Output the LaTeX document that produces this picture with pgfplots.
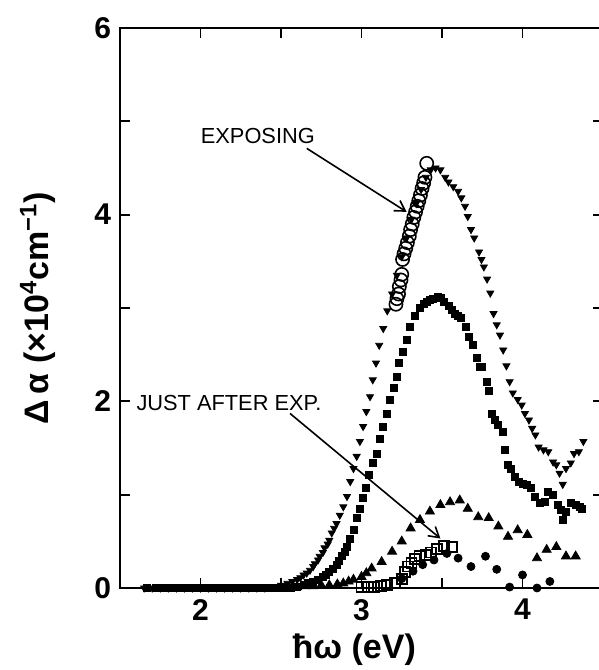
\documentclass[border=0pt]{standalone}
\usepackage{fontspec}
\setmainfont{Liberation Sans}
\usepackage{pgfplots}
\pgfplotsset{compat=1.18}
\usetikzlibrary{arrows.meta}
\begin{document}
\begin{tikzpicture}
\begin{axis}[
  scale only axis,
  width=241.5pt, height=280pt,
  xmin=1.5, xmax=4.5, ymin=0, ymax=6,
  axis line style={line width=1pt},
  every tick/.style={line width=0.9pt, black},
  tick align=inside,
  major tick length=5pt,
  xtick={2,2.5,3,3.5,4}, xticklabels={2,,3,,4},
  ytick={0,1,2,3,4,5,6}, yticklabels={0,,2,,4,,6},
  /pgf/number format/assume math mode=true,
  ticklabel style={font=\fontsize{15}{15}\selectfont\bfseries},
  xticklabel style={yshift=-2pt},
  yticklabel style={xshift=-1pt},
  xlabel={ħω (eV)},
  ylabel={Δ\,α (×10\textsuperscript{4}cm\textsuperscript{−1})},
  label style={font=\fontsize{17}{19}\selectfont\bfseries},
  xlabel style={at={(axis description cs:0.485,0)}, anchor=center, yshift=-31pt},
  ylabel style={at={(axis description cs:-0.17,0.5)}, anchor=center},
  clip=false,
]
% down triangles
\addplot[only marks, mark=triangle*, mark size=2pt, mark options={rotate=180, fill=black}, black] coordinates {
(1.65,0)(1.70,0)(1.75,0)(1.80,0)(1.85,0)(1.90,0)(1.95,0)(2.00,0)(2.05,0)(2.10,0)(2.15,0)(2.20,0)(2.25,0)(2.30,0)(2.35,0)(2.40,0)(2.45,0.01)(2.50,0.03)
(2.54,0.05)(2.57,0.07)(2.60,0.09)(2.62,0.11)(2.64,0.14)(2.66,0.16)(2.68,0.19)(2.70,0.23)(2.71,0.26)(2.73,0.30)(2.74,0.34)(2.76,0.38)(2.77,0.43)(2.79,0.47)(2.80,0.51)(2.815,0.59)(2.83,0.64)(2.845,0.69)(2.865,0.78)(2.887,0.87)(2.91,0.98)(2.93,1.14)(2.95,1.28)(2.97,1.41)(2.99,1.57)(3.01,1.73)(3.03,1.89)(3.053,2.05)(3.07,2.23)(3.09,2.41)(3.11,2.60)(3.135,2.78)(3.16,2.97)(3.19,3.15)(3.22,3.35)(3.25,3.55)(3.28,3.75)(3.31,3.95)(3.34,4.12)(3.37,4.27)(3.40,4.40)(3.43,4.48)(3.46,4.50)(3.49,4.48)(3.52,4.40)(3.54,4.35)(3.57,4.30)(3.60,4.25)(3.62,4.18)(3.643,4.09)(3.66,3.98)(3.68,3.84)(3.70,3.75)(3.73,3.60)(3.745,3.52)(3.76,3.44)(3.78,3.31)(3.80,3.16)(3.82,2.94)(3.84,2.82)(3.86,2.71)(3.88,2.55)(3.90,2.38)(3.92,2.21)(3.94,2.09)(3.97,2.02)(3.995,1.96)(4.015,1.87)(4.04,1.80)(4.06,1.71)(4.08,1.64)(4.10,1.51)(4.13,1.48)(4.16,1.46)(4.19,1.35)(4.21,1.32)(4.23,1.23)(4.25,1.11)(4.27,1.28)(4.30,1.34)(4.32,1.44)(4.35,1.46)(4.378,1.57)
};
% filled squares
\addplot[only marks, mark=square*, mark size=1.75pt, black] coordinates {
(1.67,0)(1.72,0)(1.77,0)(1.82,0)(1.87,0)(1.92,0)(1.97,0)(2.02,0)(2.07,0)(2.12,0)(2.17,0)(2.22,0)(2.27,0)(2.32,0)(2.37,0)(2.42,0)(2.47,0)(2.52,0)(2.56,0)
(2.60,0.01)(2.64,0.03)(2.67,0.05)(2.70,0.07)(2.73,0.09)(2.763,0.12)(2.78,0.14)(2.80,0.17)(2.82,0.20)(2.846,0.25)(2.86,0.29)(2.877,0.34)(2.895,0.39)(2.91,0.44)(2.93,0.53)(2.95,0.62)(2.97,0.75)(2.99,0.85)(3.01,0.96)(3.03,1.07)(3.047,1.21)(3.073,1.34)(3.094,1.44)(3.115,1.60)(3.135,1.73)(3.16,1.87)(3.177,2.01)(3.20,2.14)(3.22,2.26)(3.235,2.41)(3.255,2.53)(3.28,2.66)(3.30,2.80)(3.33,2.91)(3.363,3.00)(3.385,3.04)(3.405,3.07)(3.425,3.09)(3.446,3.10)(3.477,3.12)(3.49,3.11)(3.51,3.07)(3.54,3.02)(3.56,2.98)(3.58,2.94)(3.60,2.92)(3.62,2.89)(3.65,2.80)(3.67,2.69)(3.69,2.60)(3.715,2.46)(3.736,2.37)(3.75,2.37)(3.78,2.21)(3.79,2.11)(3.81,1.87)(3.83,1.80)(3.85,1.75)(3.88,1.67)(3.89,1.48)(3.91,1.32)(3.93,1.28)(3.95,1.19)(3.98,1.14)(4.00,1.12)(4.03,1.10)(4.05,1.07)(4.08,0.98)(4.11,0.91)(4.14,0.92)(4.16,1.03)(4.19,1.00)(4.22,0.89)(4.24,0.84)(4.25,0.73)(4.27,0.82)(4.30,0.91)(4.33,0.89)(4.357,0.87)(4.37,0.85)
};
% up triangles
\addplot[only marks, mark=triangle*, mark size=2.6pt, black] coordinates {
(2.55,0.01)(2.60,0.01)(2.65,0.02)(2.70,0.02)(2.75,0.03)(2.80,0.03)(2.85,0.04)(2.887,0.05)(2.92,0.07)(2.95,0.09)(3.00,0.12)(3.03,0.16)(3.063,0.21)(3.125,0.28)(3.19,0.39)(3.25,0.50)(3.305,0.64)(3.363,0.73)(3.425,0.82)(3.49,0.89)(3.55,0.92)(3.61,0.94)(3.66,0.85)(3.725,0.76)(3.79,0.75)(3.85,0.66)(3.91,0.55)(3.97,0.62)(4.03,0.57)(4.09,0.32)(4.15,0.41)(4.21,0.44)(4.27,0.34)(4.33,0.34)
};
% filled circles
\addplot[only marks, mark=*, mark size=2pt, black] coordinates {
(3.25,0.10)(3.32,0.18)(3.38,0.25)(3.45,0.30)(3.53,0.37)(3.60,0.32)(3.68,0.23)(3.77,0.34)(3.84,0.20)(3.92,0.01)(4.00,0.14)(4.09,0.00)(4.17,0.07)
};
% open squares (just after exposure)
\addplot[only marks, mark=square, mark size=2.5pt, mark options={line width=0.9pt, fill=white}, black] coordinates {
(3.00,0.01)(3.04,0.01)(3.08,0.01)(3.12,0.02)(3.16,0.03)(3.21,0.05)(3.25,0.10)(3.27,0.17)(3.29,0.23)(3.31,0.27)(3.33,0.31)(3.36,0.34)(3.40,0.35)(3.43,0.38)(3.47,0.42)(3.51,0.45)(3.56,0.44)
};
% open circles (exposing)
\addplot[only marks, mark=o, mark size=3.3pt, mark options={line width=0.8pt, fill=white}, black] coordinates {
(3.214,3.04)(3.22,3.10)(3.23,3.15)(3.235,3.23)(3.245,3.30)(3.25,3.36)(3.255,3.52)(3.264,3.58)(3.275,3.64)(3.285,3.70)(3.297,3.77)(3.305,3.84)(3.315,3.90)(3.325,3.97)(3.336,4.03)(3.346,4.09)(3.356,4.15)(3.366,4.21)(3.376,4.28)(3.386,4.34)(3.394,4.40)(3.405,4.55)
};
% annotations
\node[anchor=west, inner sep=0pt, font=\fontsize{10.9}{12}\selectfont] at (axis cs:2.0,4.84) {EXPOSING};
\draw[line width=0.8pt, -{Straight Barb[length=5pt,width=6pt]}] (axis cs:2.66,4.71) -- (axis cs:3.28,4.03);
\node[anchor=west, inner sep=0pt, font=\fontsize{10.9}{12}\selectfont] at (axis cs:1.60,1.98) {JUST AFTER EXP.};
\draw[line width=0.8pt, -{Straight Barb[length=5pt,width=6pt]}] (axis cs:2.556,1.87) -- (axis cs:3.49,0.53);
\end{axis}
\pgfresetboundingbox
\path[use as bounding box] ([xshift=-60pt,yshift=-41pt]current axis.south west) rectangle ([xshift=-2.5pt,yshift=14pt]current axis.north east);
\end{tikzpicture}
\end{document}
